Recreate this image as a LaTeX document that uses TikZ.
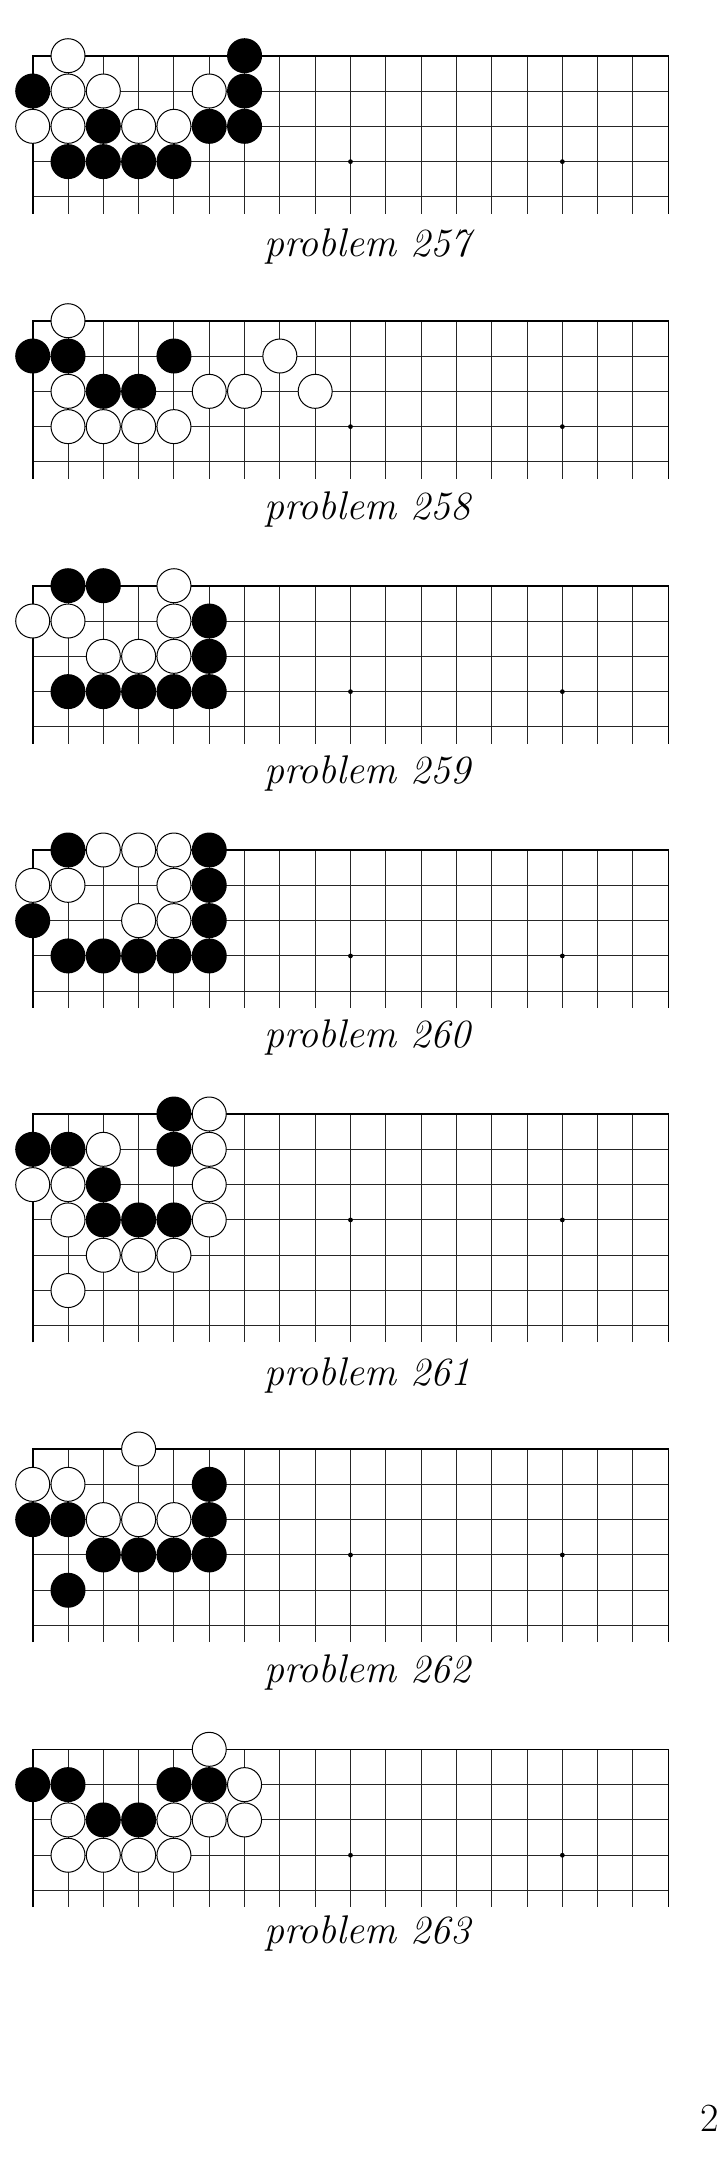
\documentclass[tikz,border=0pt]{standalone}
\tikzset{
  gridline/.style={line width=0.5pt, black!85},
  edgeline/.style={line width=0.8pt, black, line join=miter},
  hoshi/.style={fill=black},
  bstone/.style={fill=black},
  wstone/.style={fill=white, draw=black, line width=0.5pt},
  probcap/.style={font=\fontsize{20}{24}\selectfont\itshape, anchor=base, inner sep=0pt},
  pagenum/.style={font=\fontsize{20}{24}\selectfont, anchor=base west, inner sep=0pt},
}
\newcommand{\goboard}[2]{%
  \pgfmathsetmacro{\gbBot}{#1+(#2-1)*35.31}%
  \pgfmathsetmacro{\gbExt}{\gbBot+16.6}%
  \pgfmathtruncatemacro{\gbRl}{#2-1}%
  \foreach \c in {1,...,17} \draw[gridline] ({32.7+\c*35.31},#1) -- ({32.7+\c*35.31},\gbExt);
  \foreach \r in {1,...,\gbRl} \draw[gridline] (32.7,{#1+\r*35.31}) -- (668.3,{#1+\r*35.31});
  \draw[edgeline] (32.7,\gbExt) -- (32.7,#1) -- (668.3,#1) -- (668.3,\gbExt);
  \foreach \c in {3,9,15} \fill[hoshi] ({32.7+\c*35.31},{#1+3*35.31}) circle[radius=1.2pt];
}
\newcommand{\gbBlack}[2]{%
  \foreach \c/\r in {#2} \fill[bstone] ({32.7+\c*35.31},{#1+\r*35.31}) circle[radius=8.75pt];
}
\newcommand{\gbWhite}[2]{%
  \foreach \c/\r in {#2} \filldraw[wstone] ({32.7+\c*35.31},{#1+\r*35.31}) circle[radius=8.5pt];
}
\begin{document}
\begin{tikzpicture}[x=0.5pt,y=-0.5pt]
\useasboundingbox (0,0) rectangle (724,2181);
% problem 257
\goboard{55.7}{5}
\gbBlack{55.7}{6/0,0/1,6/1,2/2,5/2,6/2,1/3,2/3,3/3,4/3}
\gbWhite{55.7}{1/0,1/1,2/1,5/1,0/2,1/2,3/2,4/2}
\node[probcap] (c257) at (367.5,256.7) {problem 257};
% problem 258
\goboard{320.7}{5}
\gbBlack{320.7}{0/1,1/1,4/1,2/2,3/2}
\gbWhite{320.7}{1/0,7/1,1/2,5/2,6/2,8/2,1/3,2/3,3/3,4/3}
\node[probcap] (c258) at (367.5,519) {problem 258};
% problem 259
\goboard{585.7}{5}
\gbBlack{585.7}{1/0,2/0,5/1,5/2,1/3,2/3,3/3,4/3,5/3}
\gbWhite{585.7}{4/0,0/1,1/1,4/1,2/2,3/2,4/2}
\node[probcap] (c259) at (367.5,783) {problem 259};
% problem 260
\goboard{850}{5}
\gbBlack{850}{1/0,5/0,5/1,0/2,5/2,1/3,2/3,3/3,4/3,5/3}
\gbWhite{850}{2/0,3/0,4/0,0/1,1/1,4/1,3/2,4/2}
\node[probcap] (c260) at (367.5,1047) {problem 260};
% problem 261
\goboard{1114}{7}
\gbBlack{1114}{4/0,0/1,1/1,4/1,2/2,2/3,3/3,4/3}
\gbWhite{1114}{5/0,2/1,5/1,0/2,1/2,5/2,1/3,5/3,2/4,3/4,4/4,1/5}
\node[probcap] (c261) at (367.5,1385) {problem 261};
% problem 262
\goboard{1449}{6}
\gbBlack{1449}{5/1,0/2,1/2,5/2,2/3,3/3,4/3,5/3,1/4}
\gbWhite{1449}{3/0,0/1,1/1,2/2,3/2,4/2}
\node[probcap] (c262) at (367.5,1682) {problem 262};
% problem 263
\goboard{1749.3}{5}
\gbBlack{1749.3}{0/1,1/1,4/1,5/1,2/2,3/2}
\gbWhite{1749.3}{5/0,6/1,1/2,4/2,5/2,6/2,1/3,2/3,3/3,4/3}
\node[probcap] (c263) at (367.5,1943) {problem 263};
% page number
\node[pagenum] (pg) at (700,2131) {2};
\end{tikzpicture}
\end{document}
